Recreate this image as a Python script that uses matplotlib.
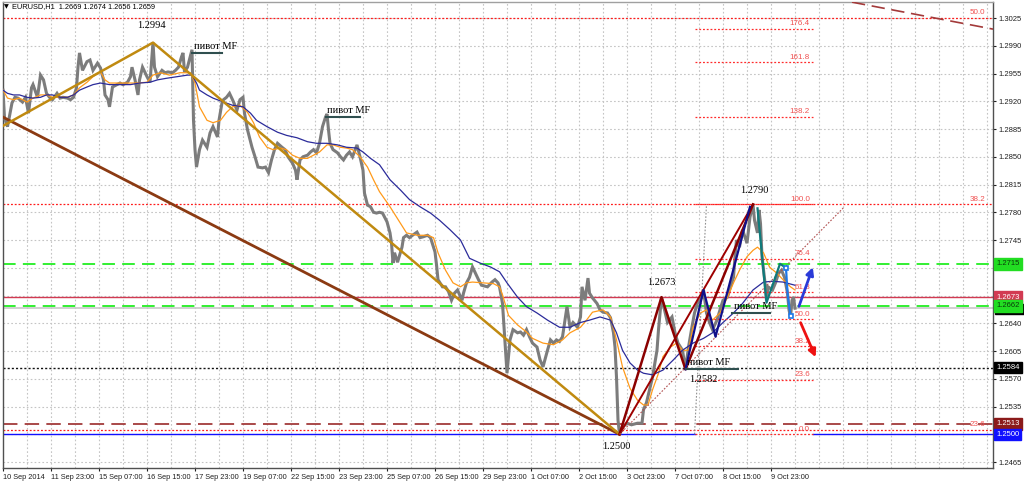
import matplotlib
matplotlib.use('Agg')
import matplotlib.pyplot as plt
from matplotlib.patches import Rectangle

# EURUSD H1, bar index (hourly bars from 10 Sep 2014) and close
price_pts = [
    (0, 1.2934), (1, 1.2899), (3, 1.2888), (6, 1.2918), (8, 1.2925), (10, 1.2924), (13, 1.2919),
    (15, 1.2925), (17, 1.2905), (19, 1.2937), (20, 1.2941), (23, 1.2925), (25, 1.2953), (27, 1.2947),
    (29, 1.2930), (31, 1.2925), (33, 1.2922), (36, 1.2930), (38, 1.2924), (40, 1.2925), (43, 1.2924),
    (45, 1.2922), (47, 1.2925), (49, 1.2937), (50, 1.2963), (51, 1.2981), (53, 1.2959), (56, 1.2970),
    (58, 1.2972), (60, 1.2959), (63, 1.2968), (65, 1.2962), (67, 1.2947), (68, 1.2928), (70, 1.2922),
    (71, 1.2913), (73, 1.2938), (76, 1.2941), (78, 1.2943), (80, 1.2941), (83, 1.2944), (85, 1.2951),
    (86, 1.2963), (88, 1.2947), (90, 1.2928), (91, 1.2947), (93, 1.2963), (96, 1.2951), (98, 1.2944),
    (100, 1.2994), (101, 1.2963), (103, 1.2951), (106, 1.2959), (108, 1.2956), (110, 1.2957),
    (113, 1.2956), (115, 1.2959), (117, 1.2963), (119, 1.2976), (120, 1.2981), (121, 1.2957),
    (123, 1.2963), (126, 1.2985), (127, 1.2896), (128, 1.2859), (129, 1.2837), (131, 1.2859),
    (133, 1.2871), (136, 1.2862), (138, 1.2880), (140, 1.2888), (143, 1.2875), (144, 1.2896),
    (146, 1.2918), (147, 1.2922), (149, 1.2925), (151, 1.2930), (153, 1.2922), (156, 1.2909),
    (158, 1.2922), (160, 1.2925), (161, 1.2905), (163, 1.2884), (166, 1.2862), (168, 1.2850),
    (170, 1.2837), (173, 1.2836), (175, 1.2837), (177, 1.2830), (179, 1.2846), (181, 1.2859),
    (183, 1.2867), (186, 1.2862), (188, 1.2859), (190, 1.2850), (193, 1.2842), (195, 1.2833),
    (196, 1.2821), (198, 1.2846), (200, 1.2850), (203, 1.2852), (205, 1.2856), (207, 1.2859),
    (209, 1.2855), (211, 1.2867), (213, 1.2888), (215, 1.2900), (216, 1.2904), (217, 1.2884),
    (218, 1.2867), (220, 1.2859), (223, 1.2855), (225, 1.2850), (227, 1.2846), (229, 1.2852),
    (231, 1.2856), (233, 1.2850), (236, 1.2865), (238, 1.2850), (240, 1.2833), (241, 1.2804),
    (243, 1.2789), (245, 1.2787), (247, 1.2780), (249, 1.2779), (251, 1.2780), (253, 1.2779),
    (256, 1.2768), (258, 1.2754), (259, 1.2741), (260, 1.2716), (261, 1.2729), (263, 1.2717),
    (266, 1.2736), (267, 1.2748), (269, 1.2751), (271, 1.2748), (273, 1.2751), (276, 1.2755),
    (278, 1.2748), (280, 1.2749), (283, 1.2751), (285, 1.2748), (287, 1.2736), (288, 1.2730),
    (289, 1.2714), (290, 1.2695), (293, 1.2686), (295, 1.2686), (297, 1.2680), (299, 1.2669),
    (301, 1.2678), (303, 1.2682), (306, 1.2669), (307, 1.2678), (309, 1.2691), (311, 1.2698),
    (313, 1.2711), (315, 1.2703), (317, 1.2695), (319, 1.2688), (321, 1.2687), (323, 1.2686),
    (326, 1.2692), (328, 1.2695), (330, 1.2691), (331, 1.2686), (333, 1.2665), (334, 1.2635),
    (335, 1.2603), (336, 1.2577), (338, 1.2619), (340, 1.2632), (343, 1.2628), (345, 1.2629),
    (347, 1.2625), (349, 1.2632), (351, 1.2623), (353, 1.2615), (356, 1.2610), (358, 1.2594),
    (360, 1.2585), (363, 1.2606), (365, 1.2619), (367, 1.2615), (369, 1.2619), (371, 1.2617),
    (373, 1.2623), (376, 1.2661), (377, 1.2648), (378, 1.2635), (380, 1.2641), (383, 1.2635),
    (385, 1.2648), (386, 1.2686), (388, 1.2669), (390, 1.2697), (391, 1.2678), (393, 1.2672),
    (396, 1.2665), (398, 1.2657), (400, 1.2654), (403, 1.2653), (405, 1.2647), (407, 1.2628),
    (408, 1.2610), (409, 1.2572), (410, 1.2518), (411, 1.2500), (413, 1.2509), (416, 1.2514),
    (419, 1.2512), (423, 1.2514), (426, 1.2514), (427, 1.2531), (429, 1.2540), (431, 1.2556),
    (433, 1.2572), (436, 1.2606), (437, 1.2632), (439, 1.2673), (441, 1.2657), (443, 1.2641),
    (446, 1.2648), (448, 1.2628), (450, 1.2615), (453, 1.2606), (455, 1.2582), (457, 1.2610),
    (459, 1.2632), (461, 1.2653), (463, 1.2665), (466, 1.2673), (467, 1.2682), (469, 1.2653),
    (471, 1.2641), (473, 1.2632), (476, 1.2644), (478, 1.2657), (480, 1.2669), (483, 1.2673),
    (485, 1.2686), (487, 1.2698), (488, 1.2724), (489, 1.2745), (491, 1.2736), (493, 1.2758),
    (496, 1.2741), (498, 1.2774), (500, 1.2790), (501, 1.2770), (503, 1.2754), (504, 1.2783),
    (505, 1.2766), (506, 1.2724), (507, 1.2707), (508, 1.2691), (509, 1.2669), (510, 1.2686),
    (513, 1.2682), (515, 1.2691), (517, 1.2703), (519, 1.2707), (521, 1.2698), (523, 1.2678),
    (524, 1.2657), (525, 1.2648), (526, 1.2669), (527, 1.2673), (528, 1.2659),
]

fast_ma_pts = [
    (0, 1.2934), (3, 1.2924), (7, 1.2922), (11, 1.2924), (16, 1.2919), (20, 1.2924), (25, 1.2928),
    (29, 1.2928), (33, 1.2925), (38, 1.2925), (43, 1.2925), (47, 1.2928), (51, 1.2937), (56, 1.2944),
    (60, 1.2951), (65, 1.2957), (68, 1.2947), (71, 1.2943), (76, 1.2943), (83, 1.2943), (89, 1.2943),
    (96, 1.2944), (100, 1.2953), (105, 1.2956), (111, 1.2953), (118, 1.2956), (125, 1.2956),
    (128, 1.2943), (131, 1.2913), (136, 1.2896), (140, 1.2893), (145, 1.2896), (149, 1.2906),
    (153, 1.2913), (158, 1.2915), (163, 1.2906), (167, 1.2893), (171, 1.2875), (176, 1.2862),
    (180, 1.2859), (185, 1.2861), (189, 1.2859), (193, 1.2852), (198, 1.2848), (203, 1.2848),
    (207, 1.2852), (211, 1.2856), (216, 1.2865), (220, 1.2865), (225, 1.2862), (229, 1.2861),
    (233, 1.2859), (238, 1.2850), (243, 1.2837), (247, 1.2821), (251, 1.2806), (258, 1.2787),
    (265, 1.2766), (269, 1.2754), (276, 1.2751), (283, 1.2751), (287, 1.2748), (290, 1.2729),
    (295, 1.2707), (300, 1.2691), (305, 1.2686), (309, 1.2691), (313, 1.2692), (320, 1.2691),
    (327, 1.2690), (331, 1.2686), (333, 1.2676), (337, 1.2650), (343, 1.2638), (349, 1.2629),
    (353, 1.2621), (360, 1.2615), (367, 1.2613), (373, 1.2619), (378, 1.2628), (385, 1.2635),
    (389, 1.2644), (393, 1.2654), (400, 1.2657), (405, 1.2648), (409, 1.2619), (413, 1.2585),
    (418, 1.2558), (423, 1.2543), (427, 1.2537), (430, 1.2537), (433, 1.2556), (437, 1.2577),
    (440, 1.2598), (445, 1.2610), (449, 1.2615), (453, 1.2606), (457, 1.2606), (460, 1.2635),
    (465, 1.2653), (469, 1.2657), (473, 1.2644), (478, 1.2653), (483, 1.2673), (487, 1.2691),
    (491, 1.2707), (496, 1.2724), (500, 1.2732), (503, 1.2736), (507, 1.2729), (511, 1.2711),
    (516, 1.2703), (520, 1.2695), (525, 1.2686), (528, 1.2682),
]

slow_ma_pts = [
    (0, 1.2934), (3, 1.2930), (7, 1.2928), (11, 1.2928), (16, 1.2925), (20, 1.2924), (25, 1.2925),
    (29, 1.2928), (33, 1.2928), (38, 1.2925), (43, 1.2925), (47, 1.2928), (51, 1.2934), (56, 1.2938),
    (60, 1.2941), (65, 1.2943), (71, 1.2941), (78, 1.2941), (85, 1.2941), (91, 1.2943), (98, 1.2944),
    (103, 1.2947), (109, 1.2949), (116, 1.2951), (123, 1.2953), (126, 1.2953), (129, 1.2943),
    (131, 1.2934), (136, 1.2928), (140, 1.2924), (147, 1.2919), (153, 1.2915), (160, 1.2913),
    (165, 1.2905), (169, 1.2896), (176, 1.2888), (183, 1.2881), (189, 1.2877), (196, 1.2874),
    (203, 1.2869), (209, 1.2867), (216, 1.2867), (223, 1.2865), (229, 1.2862), (236, 1.2861),
    (240, 1.2856), (245, 1.2848), (251, 1.2840), (258, 1.2821), (265, 1.2808), (271, 1.2796),
    (278, 1.2787), (285, 1.2779), (291, 1.2770), (298, 1.2758), (305, 1.2745), (311, 1.2722),
    (318, 1.2716), (325, 1.2711), (331, 1.2705), (336, 1.2691), (343, 1.2673), (349, 1.2661),
    (356, 1.2653), (363, 1.2644), (371, 1.2635), (378, 1.2635), (385, 1.2641), (391, 1.2644),
    (398, 1.2648), (405, 1.2644), (409, 1.2628), (413, 1.2606), (418, 1.2590), (423, 1.2581),
    (427, 1.2577), (433, 1.2575), (440, 1.2581), (447, 1.2594), (453, 1.2606), (460, 1.2615),
    (467, 1.2621), (473, 1.2628), (480, 1.2641), (487, 1.2653), (493, 1.2665), (500, 1.2682),
    (507, 1.2692), (513, 1.2693), (520, 1.2692), (528, 1.2688),
]

tick_bars = list(range(0, 513, 32))
tick_labels = ['10 Sep 2014', '11 Sep 23:00', '15 Sep 07:00', '16 Sep 15:00', '17 Sep 23:00',
               '19 Sep 07:00', '22 Sep 15:00', '23 Sep 23:00', '25 Sep 07:00', '26 Sep 15:00',
               '29 Sep 23:00', '1 Oct 07:00', '2 Oct 15:00', '3 Oct 23:00', '7 Oct 07:00',
               '8 Oct 15:00', '9 Oct 23:00']
price_ticks = [round(1.2465 + 0.0035 * k, 4) for k in range(17)]
hidden_ticks = [1.2500, 1.2675, 1.2710]   # covered by the price tags

# zigzags / trend lines (bar, price)
gold_zz = [(0, 1.2889), (100, 1.2994), (411, 1.2500)]
brown_line = [(0, 1.2900), (411, 1.2500)]
red_zz = [(411, 1.2500), (439, 1.2673), (455, 1.2582), (500, 1.2790)]
red_line = [(411, 1.2500), (500, 1.2790)]
red_channel = [(411, 1.2500), (561, 1.2787)]
navy_zz = [(455, 1.2582), (467, 1.2682), (475, 1.2623), (498, 1.2787)]
teal_zz = [(503, 1.2785), (509, 1.2666), (518, 1.2715), (522, 1.2710)]
blue_zz = [(522, 1.2710), (523, 1.2678), (525, 1.2649)]
top_dash = [(566, 1.3045), (660, 1.3011)]

# fibo retracement 1.2500 -> 1.2790
fib_low, fib_high = 1.2500, 1.2790
fib_levels = [0.0, 23.6, 38.2, 50.0, 61.8, 76.4, 100.0, 138.2, 161.8, 176.4]
fib_from, fib_to = 461, 540

# pivots: text, bar range of the mark, price of the mark
pivots = [('пивот MF', 126, 146, 1.2981),
          ('пивот MF', 215, 238, 1.2900),
          ('пивот MF', 486, 511, 1.2653),
          ('пивот MF', 455, 490, 1.2582)]
extreme_labels = [('1.2994', 99, 1.3016), ('1.2790', 501, 1.2808), ('1.2673', 439, 1.2691),
                  ('1.2582', 467, 1.2569), ('1.2500', 409, 1.2485)]

fig = plt.figure(figsize=(10.24, 4.82), dpi=100)
ax = fig.add_axes([3 / 1024, 14 / 482, 990 / 1024, 466 / 482])
ax.set_xlim(0, 660)
ax.set_ylim(1.24575, 1.30452)

grid_kw = dict(color='#c4c4c4', lw=0.8, ls=(0, (1.5, 2)), zorder=0)
for b in range(16, 660, 16):
    ax.axvline(b, **grid_kw)
for p in price_ticks:
    ax.axhline(p, **grid_kw)

def xy(pts):
    return [a for a, b in pts], [b for a, b in pts]

# horizontal levels
ax.axhline(1.2659, color='#c8c8c8', lw=1.2, zorder=1)
ax.axhline(1.3025, color='#ff1a1a', lw=0.9, ls=(0, (1.5, 1.5)), zorder=2)
ax.axhline(1.2790, color='#ff1a1a', lw=0.9, ls=(0, (1.5, 1.5)), zorder=2)
ax.axhline(1.2506, color='#ff1a1a', lw=0.9, ls=(0, (1.5, 1.5)), zorder=2)
ax.axhline(1.2715, color='#22ee22', lw=1.3, ls=(0, (7, 4)), zorder=2)
ax.axhline(1.2662, color='#22ee22', lw=1.3, ls=(0, (7, 4)), zorder=2)
ax.axhline(1.2673, color='#d23a52', lw=1.0, zorder=2)
ax.axhline(1.2584, color='#111111', lw=1.0, ls=(0, (1.5, 1.5)), zorder=2)
ax.axhline(1.2513, color='#a33a3a', lw=1.3, ls=(0, (8, 4)), zorder=2)
ax.plot([0, fib_from], [1.2500, 1.2500], color='#1010ff', lw=1.0, zorder=2)
ax.plot([fib_to, 660], [1.2500, 1.2500], color='#1010ff', lw=1.0, zorder=2)

# price and moving averages
bx, by = xy(price_pts)
ax.plot(bx, by, color='#7c7c7c', lw=2.2, zorder=3, solid_joinstyle='miter')
fx, fy = xy(fast_ma_pts)
ax.plot(fx, fy, color='#ff9a1a', lw=0.9, zorder=4)
sx, sy = xy(slow_ma_pts)
ax.plot(sx, sy, color='#2b2b9a', lw=0.9, zorder=4)

# fibo
for lv in fib_levels:
    p = fib_low + (fib_high - fib_low) * lv / 100
    ax.plot([fib_from, fib_to], [p, p], color='#ff2a2a', lw=0.9, ls=(0, (1.5, 1.5)), zorder=5)
    ax.text(fib_to - 2, p + 0.0002, '%.1f' % lv, color='#f05050', fontsize=5.8,
            ha='right', va='bottom', family='Liberation Sans', zorder=6)
ax.plot([fib_from, 469], [fib_low, fib_high], color='#909090', lw=0.8, ls=(0, (1.5, 1.5)), zorder=5)

# trend lines
ax.plot(*xy(brown_line), color='#8b3a12', lw=2.0, zorder=5)
ax.plot(*xy(gold_zz), color='#c08a10', lw=1.8, zorder=5)
ax.plot(*xy(red_line), color='#9e0000', lw=1.4, zorder=5)
ax.plot(*xy(red_zz), color='#8b0000', lw=1.8, zorder=5)
ax.plot(*xy(red_channel), color='#b05050', lw=0.8, ls=(0, (1.5, 1.5)), zorder=5)
ax.plot(*xy(navy_zz), color='#10108a', lw=1.6, zorder=5)
ax.plot(*xy(teal_zz), color='#0f7b7b', lw=1.6, zorder=5)
ax.plot(*xy(blue_zz), color='#1e78e8', lw=1.6, zorder=5)
ax.plot([blue_zz[0][0], blue_zz[-1][0]], [blue_zz[0][1], blue_zz[-1][1]], ls='none',
        marker='s', ms=3.5, mfc='white', mec='#1e78e8', mew=1.2, zorder=6)
ax.plot(*xy(top_dash), color='#a33a3a', lw=1.2, ls=(0, (8, 4)), zorder=5)

ax.annotate('', xy=(540.5, 1.2714), xytext=(530, 1.2658),
            arrowprops=dict(arrowstyle='-|>', color='#2a3ad8', lw=2, mutation_scale=11), zorder=7)
ax.annotate('', xy=(542.5, 1.2594), xytext=(531, 1.2644),
            arrowprops=dict(arrowstyle='-|>', color='#ee1111', lw=2, mutation_scale=11), zorder=7)

# labels
for txt, b0, b1, p in pivots:
    ax.plot([b0, b1], [p, p], color='#2f4f4f', lw=1.5, zorder=6)
    ax.text(b0 + 1, p + 0.00025, txt, fontsize=7.5, family='Liberation Serif',
            ha='left', va='bottom', zorder=7)
for txt, b, p in extreme_labels:
    ax.text(b, p, txt, fontsize=7.5, family='Liberation Serif', ha='center', va='center', zorder=7)

for txt, p in [('50.0', 1.3025), ('38.2', 1.2790), ('23.6', 1.2506)]:
    ax.text(655, p + 0.0002, txt, color='#f05050', fontsize=5.8, ha='right', va='bottom',
            family='Liberation Sans', zorder=6)

# axes styling
for s in ax.spines.values():
    s.set_color('#505050')
    s.set_linewidth(1.0)
ax.spines['top'].set_color('#a0a0a0')
ax.yaxis.tick_right()
ax.set_yticks(price_ticks)
ax.set_yticklabels(['' if p in hidden_ticks else '%.4f' % p for p in price_ticks],
                   family='Liberation Sans', fontsize=5.5)
ax.set_xticks(tick_bars)
ax.set_xticklabels(tick_labels, family='Liberation Sans', fontsize=5.3, ha='left')
ax.tick_params(axis='y', direction='out', length=2.5, width=0.8, pad=1.5, colors='#202020')
ax.tick_params(axis='x', direction='out', length=2.5, width=0.8, pad=1.5, colors='#202020')

def tag(p, txt, bg, fg='white'):
    ax.text(1.003, p, txt, transform=ax.get_yaxis_transform(), fontsize=5.5, color=fg,
            va='center', ha='left', family='Liberation Sans', clip_on=False, zorder=10,
            bbox=dict(boxstyle='square,pad=0.3', fc=bg, ec=bg))

# current-price tag, mostly hidden under the 1.2662 tag
ax.add_patch(Rectangle((1.002, 1.2652), 0.029, 0.0012, transform=ax.get_yaxis_transform(),
                       fc='black', ec='black', clip_on=False, zorder=9))
tag(1.2715, '1.2715', '#22dd22', '#0a3a0a')
tag(1.2673, '1.2673', '#d23a52')
tag(1.2662, '1.2662', '#22dd22', '#0a3a0a')
tag(1.2584, '1.2584', '#000000')
tag(1.2513, '1.2513', '#8b1a1a')
tag(1.2500, '1.2500', '#1010ff')

fig.text(6 / 1024, 1 - 7 / 482, '▼', fontsize=4.5, va='center', ha='center')
fig.text(12 / 1024, 1 - 7 / 482, 'EURUSD,H1  1.2669 1.2674 1.2656 1.2659', fontsize=5.3,
         family='Liberation Sans', va='center', ha='left')

fig.savefig('out.png', dpi=100, facecolor='white')
